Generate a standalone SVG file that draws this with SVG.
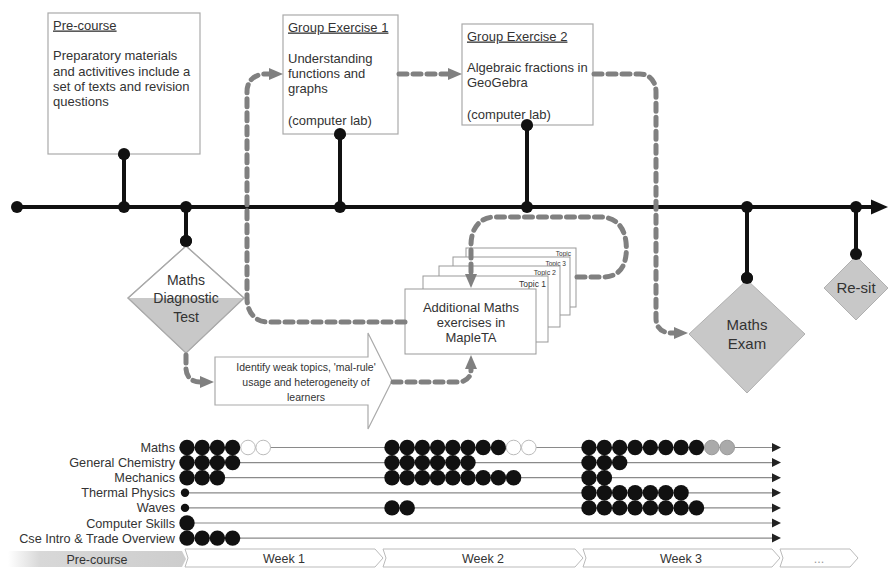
<svg xmlns="http://www.w3.org/2000/svg" width="888" height="569" viewBox="0 0 888 569">
<defs>
<style>
text{font-family:"Liberation Sans",Arial,sans-serif;fill:#333;}
.box{fill:#fff;stroke:#aaa;stroke-width:1.2;}
.stk{fill:#fff;stroke:#999;stroke-width:1;}
.tl{stroke:#111;stroke-width:4;fill:none;}
.td{fill:#111;}
.dash{fill:none;stroke:#808080;stroke-width:5;stroke-dasharray:8 6;stroke-linecap:round;}
.ttl{font-size:13px;text-decoration:underline;}
.t13{font-size:13px;}
.row{stroke:#8a8a8a;stroke-width:1.2;}
.ra{fill:#222;}
.b{fill:#111;}
.e{fill:#fff;stroke:#bbb;stroke-width:1;}
.g{fill:#aaa;stroke:#999;stroke-width:1;}
.lbl{font-size:12.7px;text-anchor:end;}
.wk{fill:#fff;stroke:#bbb;stroke-width:1;}
.wt{font-size:12.5px;text-anchor:middle;}
.dia{fill:#c8c8c8;stroke:#b0b0b0;stroke-width:1;}
</style>
<marker id="ah" viewBox="0 0 14 12" refX="1" refY="6" markerWidth="14" markerHeight="12" markerUnits="userSpaceOnUse" orient="auto">
<path d="M0,0 L14,6 L0,12 Z" fill="#808080"/>
</marker>
<linearGradient id="pg" x1="0" y1="0" x2="1" y2="0">
<stop offset="0" stop-color="#fff"/>
<stop offset="0.18" stop-color="#d8d8d8"/>
<stop offset="1" stop-color="#cdcdcd"/>
</linearGradient>
</defs>
<rect width="888" height="569" fill="#fff"/>

<g id="timeline">
<line class="tl" x1="17" y1="207" x2="874" y2="207"/>
<polygon class="td" points="871,199.5 888,207 871,214.5"/>
<circle class="td" cx="17" cy="207" r="6"/>
<line class="tl" x1="124" y1="154" x2="124" y2="207"/>
<circle class="td" cx="124" cy="154" r="6"/>
<circle class="td" cx="124" cy="207" r="6"/>
<line class="tl" x1="186" y1="207" x2="186" y2="241"/>
<circle class="td" cx="186" cy="207" r="6"/>
<circle class="td" cx="186" cy="241" r="6"/>
<line class="tl" x1="340" y1="134" x2="340" y2="207"/>
<circle class="td" cx="340" cy="134" r="6"/>
<circle class="td" cx="340" cy="207" r="6"/>
<line class="tl" x1="527" y1="125" x2="527" y2="207"/>
<circle class="td" cx="527" cy="125" r="6"/>
<circle class="td" cx="527" cy="207" r="6"/>
<line class="tl" x1="747" y1="207" x2="747" y2="278"/>
<circle class="td" cx="747" cy="207" r="6"/>
<circle class="td" cx="747" cy="278" r="6"/>
<line class="tl" x1="856" y1="207" x2="856" y2="254"/>
<circle class="td" cx="856" cy="207" r="6"/>
</g>

<g id="precourse">
<rect class="box" x="48" y="13" width="152" height="141"/>
<text class="ttl" x="53" y="29.5">Pre-course</text>
<text class="t13" x="53" y="60">Preparatory materials</text>
<text class="t13" x="53" y="75.5">and activitives include a</text>
<text class="t13" x="53" y="91">set of texts and revision</text>
<text class="t13" x="53" y="106">questions</text>
<circle class="td" cx="124" cy="154" r="6"/>
</g>

<g id="ge1">
<rect class="box" x="283" y="15" width="115" height="119"/>
<text class="ttl" x="288" y="31.5">Group Exercise 1</text>
<text class="t13" x="288" y="62.5">Understanding</text>
<text class="t13" x="288" y="77.5">functions and</text>
<text class="t13" x="288" y="92.5">graphs</text>
<text class="t13" x="288" y="124.5">(computer lab)</text>
<circle class="td" cx="340" cy="134" r="6"/>
</g>

<g id="ge2">
<rect class="box" x="462" y="24" width="131" height="101"/>
<text class="ttl" x="467" y="40.5">Group Exercise 2</text>
<text class="t13" x="467" y="71.5">Algebraic fractions in</text>
<text class="t13" x="467" y="86.5">GeoGebra</text>
<text class="t13" x="467" y="118.5">(computer lab)</text>
<circle class="td" cx="527" cy="125" r="6"/>
</g>

<g id="diag">
<polygon points="186,246 244,298 186,353 128,298" fill="#fff" stroke="#aaa" stroke-width="1.2"/>
<polygon points="128.5,298 243.5,298 186,352.5" fill="#c8c8c8"/>
<polygon points="186,246 244,298 186,353 128,298" fill="none" stroke="#aaa" stroke-width="1.2"/>
<text x="186" y="285" font-size="14" text-anchor="middle">Maths</text>
<text x="186" y="303" font-size="14" text-anchor="middle">Diagnostic</text>
<text x="186" y="321.5" font-size="14" text-anchor="middle">Test</text>
<circle class="td" cx="186" cy="241" r="6"/>
</g>

<g id="identify">
<polygon class="box" points="215,357 368,357 368,333 392,381 368,429 368,405 215,405"/>
<text x="306" y="370.5" font-size="10.5" text-anchor="middle">Identify weak topics, 'mal-rule'</text>
<text x="306" y="385.5" font-size="10.5" text-anchor="middle">usage and heterogeneity of</text>
<text x="306" y="400.5" font-size="10.5" text-anchor="middle">learners</text>
</g>

<g id="mapleta">
<rect class="stk" x="466" y="248" width="110" height="59"/>
<text x="571" y="256" font-size="6.5" text-anchor="end">Topic</text>
<rect class="stk" x="453" y="257" width="117" height="58"/>
<text x="566" y="265.5" font-size="6.5" text-anchor="end">Topic 3</text>
<rect class="stk" x="439" y="266" width="121" height="61"/>
<text x="556" y="274.5" font-size="7" text-anchor="end">Topic 2</text>
<rect class="stk" x="423" y="276" width="125" height="66"/>
<text x="546" y="287" font-size="8.5" text-anchor="end">Topic 1</text>
<rect class="stk" x="405" y="289" width="131" height="65"/>
<text class="t13" x="471" y="311.5" text-anchor="middle">Additional Maths</text>
<text class="t13" x="471" y="326.5" text-anchor="middle">exercises in</text>
<text class="t13" x="471" y="341.5" text-anchor="middle">MapleTA</text>
</g>

<g id="exam">
<polygon class="dia" points="747,280 805,334 747,393 689,334"/>
<text x="747" y="330" font-size="15" text-anchor="middle">Maths</text>
<text x="747" y="348.5" font-size="15" text-anchor="middle">Exam</text>
<circle class="td" cx="747" cy="278" r="6"/>
</g>

<g id="resit">
<polygon class="dia" points="856,256 888,288 856,320 824,288"/>
<text x="856" y="293" font-size="15" text-anchor="middle">Re-sit</text>
<circle class="td" cx="856" cy="254" r="6"/>
</g>

<g id="connectors">
<path class="dash" d="M405,322 L268,322 C255,322 247,312 247,298 L247,92 C247,80 255,74 266,74 L270,74" marker-end="url(#ah)"/>
<path class="dash" d="M399,74 L449,74" marker-end="url(#ah)"/>
<path class="dash" d="M594,74 L640,74 C650,74 656,82 656,92 L656,318 C656,328 662,333 672,333 L675,333" marker-end="url(#ah)"/>
<path class="dash" d="M186,355 L186,368 C186,377 192,382 200,382 L201,382" marker-end="url(#ah)"/>
<path class="dash" d="M393,382 L458,382 C466,382 471,377 471,370 L471,368" marker-end="url(#ah)"/>
<path class="dash" d="M577,277 L603,277 C622,277 628,262 626,242 C624,226 615,217 600,217 L495,217 C480,217 471,228 471,245 L471,275" marker-end="url(#ah)"/>
</g>

<g id="schedule">
<g id="rowlines">
<line class="row" x1="185" y1="447.5" x2="773" y2="447.5"/>
<line class="row" x1="185" y1="462.6" x2="773" y2="462.6"/>
<line class="row" x1="185" y1="477.7" x2="773" y2="477.7"/>
<line class="row" x1="185" y1="492.8" x2="773" y2="492.8"/>
<line class="row" x1="185" y1="507.9" x2="773" y2="507.9"/>
<line class="row" x1="185" y1="523" x2="773" y2="523"/>
<line class="row" x1="185" y1="538.1" x2="773" y2="538.1"/>
<polygon class="ra" points="772,443 781,447.5 772,452"/>
<polygon class="ra" points="772,458.1 781,462.6 772,467.1"/>
<polygon class="ra" points="772,473.2 781,477.7 772,482.2"/>
<polygon class="ra" points="772,488.3 781,492.8 772,497.3"/>
<polygon class="ra" points="772,503.4 781,507.9 772,512.4"/>
<polygon class="ra" points="772,518.5 781,523 772,527.5"/>
<polygon class="ra" points="772,533.6 781,538.1 772,542.6"/>
</g>
<g id="labels">
<text class="lbl" x="175" y="452">Maths</text>
<text class="lbl" x="175" y="467.1">General Chemistry</text>
<text class="lbl" x="175" y="482.2">Mechanics</text>
<text class="lbl" x="175" y="497.3">Thermal Physics</text>
<text class="lbl" x="175" y="512.4">Waves</text>
<text class="lbl" x="175" y="527.5">Computer Skills</text>
<text class="lbl" x="175" y="542.6">Cse Intro &amp; Trade Overview</text>
</g>
<g id="dots">
<!-- Maths -->
<circle class="b" cx="187" cy="447.5" r="7.7"/><circle class="b" cx="202.2" cy="447.5" r="7.7"/><circle class="b" cx="217.4" cy="447.5" r="7.7"/><circle class="b" cx="232.6" cy="447.5" r="7.7"/>
<circle class="e" cx="248" cy="447.5" r="7.3"/><circle class="e" cx="263.2" cy="447.5" r="7.3"/>
<circle class="b" cx="392" cy="447.5" r="7.7"/><circle class="b" cx="407.2" cy="447.5" r="7.7"/><circle class="b" cx="422.4" cy="447.5" r="7.7"/><circle class="b" cx="437.6" cy="447.5" r="7.7"/><circle class="b" cx="452.8" cy="447.5" r="7.7"/><circle class="b" cx="468" cy="447.5" r="7.7"/><circle class="b" cx="483.2" cy="447.5" r="7.7"/><circle class="b" cx="498.4" cy="447.5" r="7.7"/>
<circle class="e" cx="513.6" cy="447.5" r="7.3"/><circle class="e" cx="528.8" cy="447.5" r="7.3"/>
<circle class="b" cx="589" cy="447.5" r="7.7"/><circle class="b" cx="604.4" cy="447.5" r="7.7"/><circle class="b" cx="619.7" cy="447.5" r="7.7"/><circle class="b" cx="635.1" cy="447.5" r="7.7"/><circle class="b" cx="650.4" cy="447.5" r="7.7"/><circle class="b" cx="665.8" cy="447.5" r="7.7"/><circle class="b" cx="681.1" cy="447.5" r="7.7"/><circle class="b" cx="696.5" cy="447.5" r="7.7"/>
<circle class="g" cx="711.8" cy="447.5" r="7.3"/><circle class="g" cx="727.2" cy="447.5" r="7.3"/>
<!-- General Chemistry -->
<circle class="b" cx="187" cy="462.6" r="7.7"/><circle class="b" cx="202.2" cy="462.6" r="7.7"/><circle class="b" cx="217.4" cy="462.6" r="7.7"/><circle class="b" cx="232.6" cy="462.6" r="7.7"/>
<circle class="b" cx="392" cy="462.6" r="7.7"/><circle class="b" cx="407.2" cy="462.6" r="7.7"/><circle class="b" cx="422.4" cy="462.6" r="7.7"/><circle class="b" cx="437.6" cy="462.6" r="7.7"/><circle class="b" cx="452.8" cy="462.6" r="7.7"/><circle class="b" cx="468" cy="462.6" r="7.7"/>
<circle class="b" cx="589" cy="462.6" r="7.7"/><circle class="b" cx="604.4" cy="462.6" r="7.7"/><circle class="b" cx="619.7" cy="462.6" r="7.7"/>
<!-- Mechanics -->
<circle class="b" cx="187" cy="477.7" r="7.7"/><circle class="b" cx="202.2" cy="477.7" r="7.7"/><circle class="b" cx="217.4" cy="477.7" r="7.7"/>
<circle class="b" cx="392" cy="477.7" r="7.7"/><circle class="b" cx="407.2" cy="477.7" r="7.7"/><circle class="b" cx="422.4" cy="477.7" r="7.7"/><circle class="b" cx="437.6" cy="477.7" r="7.7"/><circle class="b" cx="452.8" cy="477.7" r="7.7"/><circle class="b" cx="468" cy="477.7" r="7.7"/><circle class="b" cx="483.2" cy="477.7" r="7.7"/><circle class="b" cx="498.4" cy="477.7" r="7.7"/><circle class="b" cx="513.6" cy="477.7" r="7.7"/>
<circle class="b" cx="589" cy="477.7" r="7.7"/><circle class="b" cx="604.4" cy="477.7" r="7.7"/>
<!-- Thermal Physics -->
<circle class="b" cx="185" cy="492.8" r="4.2"/>
<circle class="b" cx="589" cy="492.8" r="7.7"/><circle class="b" cx="604.4" cy="492.8" r="7.7"/><circle class="b" cx="619.7" cy="492.8" r="7.7"/><circle class="b" cx="635.1" cy="492.8" r="7.7"/><circle class="b" cx="650.4" cy="492.8" r="7.7"/><circle class="b" cx="665.8" cy="492.8" r="7.7"/><circle class="b" cx="681.1" cy="492.8" r="7.7"/>
<!-- Waves -->
<circle class="b" cx="185" cy="507.9" r="4.2"/>
<circle class="b" cx="392" cy="507.9" r="7.7"/><circle class="b" cx="407.2" cy="507.9" r="7.7"/>
<circle class="b" cx="589" cy="507.9" r="7.7"/><circle class="b" cx="604.4" cy="507.9" r="7.7"/><circle class="b" cx="619.7" cy="507.9" r="7.7"/><circle class="b" cx="635.1" cy="507.9" r="7.7"/><circle class="b" cx="650.4" cy="507.9" r="7.7"/><circle class="b" cx="665.8" cy="507.9" r="7.7"/><circle class="b" cx="681.1" cy="507.9" r="7.7"/><circle class="b" cx="696.5" cy="507.9" r="7.7"/>
<!-- Computer Skills -->
<circle class="b" cx="187" cy="523" r="7.7"/>
<!-- Cse Intro -->
<circle class="b" cx="187" cy="538.1" r="7.7"/><circle class="b" cx="202.2" cy="538.1" r="7.7"/><circle class="b" cx="217.4" cy="538.1" r="7.7"/><circle class="b" cx="232.6" cy="538.1" r="7.7"/>
</g>
<g id="weeks">
<polygon points="8,551 182,551 186,559 182,567 8,567" fill="url(#pg)"/>
<text class="wt" x="97" y="563.5">Pre-course</text>
<polygon class="wk" points="185,549 375,549 383,558 375,567 185,567 188,558"/>
<text class="wt" x="284" y="563">Week 1</text>
<polygon class="wk" points="383,549 575,549 583,558 575,567 383,567 386,558"/>
<text class="wt" x="483" y="563">Week 2</text>
<polygon class="wk" points="583,549 772,549 780,558 772,567 583,567 586,558"/>
<text class="wt" x="681" y="563">Week 3</text>
<polygon class="wk" points="780,549 850,549 858,558 850,567 780,567 783,558"/>
<text class="wt" x="819" y="563" style="fill:#999">...</text>
</g>
</g>
</svg>
